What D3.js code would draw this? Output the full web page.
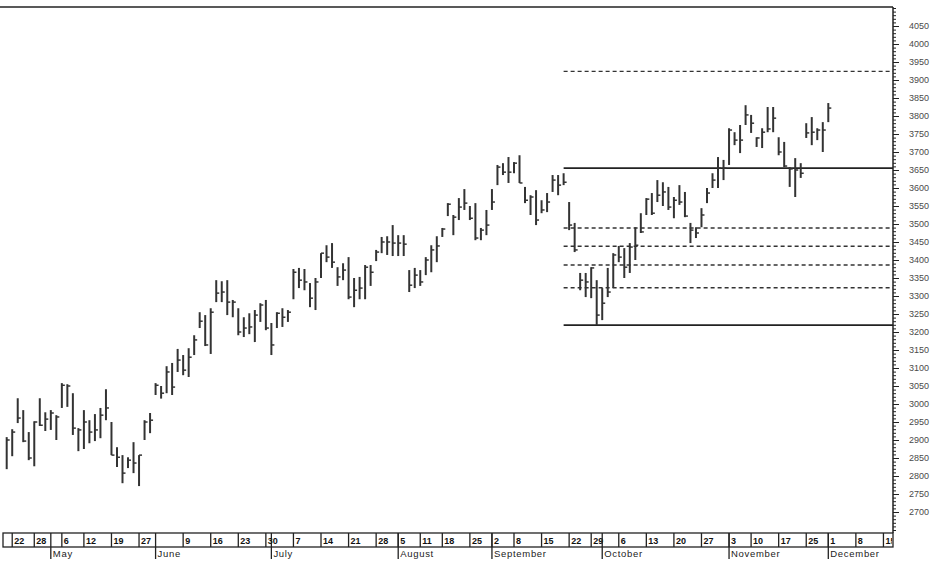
<!DOCTYPE html>
<html>
<head>
<meta charset="utf-8">
<script src="https://cdn.jsdelivr.net/npm/d3@7"></script>
<style>
  body { margin: 0; background: #fff; }
  svg { display: block; font-family: "Liberation Sans", Arial, sans-serif; }
</style>
</head>
<body>
<div id="chart"></div>
<script>
// daily bars (one entry per trading day)
const highs = [2908,2930,3016,2983,2922,2952,3016,2977,2983,2969, 3058,3055,3030,2933,2983,2955,2972,2989,3041,2950,
  2880,2858,2852,2894,2858,2955,2975,3058,3050,3105, 3114,3153,3136,3155,3191,3255,3247,3266,3344,3341,
  3344,3289,3266,3241,3252,3261,3280,3289,3225,3255, 3266,3261,3375,3378,3375,3336,3350,3419,3441,3447,
  3380,3391,3408,3350,3353,3386,3386,3428,3464,3466, 3497,3469,3469,3372,3378,3372,3408,3441,3466,3489,
  3558,3525,3572,3597,3550,3558,3489,3539,3597,3664, 3669,3686,3672,3691,3603,3580,3594,3566,3586,3636,
  3636,3641,3561,3503,3364,3364,3380,3344,3322,3378, 3419,3439,3433,3447,3491,3530,3572,3586,3622,3616,
  3603,3575,3608,3589,3503,3491,3544,3600,3641,3686, 3678,3766,3755,3775,3830,3803,3741,3766,3825,3825,
  3741,3728,3658,3683,3669,3780,3797,3766,3783,3836];
const lows = [2819,2855,2947,2894,2844,2827,2939,2925,2928,2900, 2989,2992,2914,2869,2875,2891,2897,2905,2955,2858,
  2825,2780,2822,2808,2772,2900,2919,3025,3015,3030, 3025,3089,3080,3075,3136,3211,3161,3139,3283,3283,
  3247,3241,3191,3186,3194,3172,3228,3205,3136,3211, 3214,3228,3291,3322,3316,3269,3261,3350,3394,3378,
  3328,3344,3291,3269,3291,3291,3328,3397,3419,3414, 3411,3411,3411,3311,3322,3328,3358,3366,3394,3464,
  3522,3469,3511,3539,3511,3455,3455,3469,3539,3608, 3636,3614,3641,3614,3558,3525,3497,3530,3533,3589,
  3580,3608,3483,3422,3316,3297,3294,3219,3233,3297, 3322,3394,3350,3364,3400,3475,3525,3525,3561,3550,
  3539,3516,3553,3519,3447,3461,3491,3558,3600,3600, 3622,3664,3719,3697,3775,3753,3714,3711,3755,3755,
  3691,3658,3603,3575,3628,3739,3719,3733,3700,3783];
const closes = [2900,2922,2961,2897,2850,2950,2941,2958,2975,2964, 3052,3050,2933,2928,2950,2922,2928,2969,2989,2858,
  2852,2808,2844,2836,2858,2950,2955,3052,3030,3089, 3047,3122,3094,3130,3178,3230,3164,3255,3308,3311,
  3283,3283,3200,3211,3214,3247,3275,3211,3164,3252, 3241,3255,3366,3344,3339,3294,3339,3419,3408,3394,
  3353,3372,3297,3316,3322,3380,3366,3422,3450,3450, 3447,3447,3444,3330,3358,3339,3400,3428,3439,3486,
  3555,3519,3547,3558,3516,3461,3483,3497,3561,3658, 3644,3644,3669,3614,3566,3575,3511,3539,3561,3622,
  3608,3616,3497,3428,3344,3339,3378,3247,3280,3311, 3414,3408,3380,3436,3441,3478,3569,3530,3580,3589,
  3547,3566,3561,3522,3483,3475,3525,3586,3622,3655, 3655,3761,3733,3733,3803,3780,3739,3755,3764,3794,
  3700,3661,3653,3650,3641,3753,3755,3761,3761,3822];

// horizontal levels drawn from bar 101 to the axis
const solidLevels = [3655, 3219];
const dashedLevels = [3924, 3489, 3438, 3386, 3323];
const levelFrom = 101;

// date strip: bar index of each weekly tick, and of each month start
const weekIdx = [1,5,10,14,19,24,32,37,42,47,52,57,62,67,71,75,79,84,88,92,97,102,106,111,116,121,126,131,135,140,145,149,154,159];
const weekLabels = ["22","28","6","12","19","27","9","16","23","30","7","14","21","28","5","11","18","25","2","8","15","22","29","6","13","20","27","3","10","17","25","1","8","15"];
const monthIdx = [8,27,48,71,88,108,131,149];
const monthLabels = ["May","June","July","August","September","October","November","December"];

const priceTicks = [2700,2750,2800,2850,2900,2950,3000,3050,3100,3150,3200,3250,3300,3350,3400,3450,3500,
  3550,3600,3650,3700,3750,3800,3850,3900,3950,4000,4050];

const width = 942, height = 561,
  axisX = 893, topY = 7, boxTop = 533, boxBottom = 547;

const svg = d3.select("#chart").append("svg")
  .attr("width", width)
  .attr("height", height);

const x = d3.scaleLinear().domain([0, 149]).range([6.7, 828.3]);
const y = d3.scaleLinear().domain([2700, 4050]).range([512, 26]);

// frame
svg.append("line")
  .attr("x1", 0).attr("x2", axisX)
  .attr("y1", topY).attr("y2", topY)
  .attr("stroke", "#222").attr("stroke-width", 1.5);

// price axis on the right
const minorAxis = svg.append("g")
  .attr("transform", `translate(${axisX},0)`)
  .call(d3.axisRight(y)
    .tickValues(d3.range(2650, 4101, 10))
    .tickSize(3)
    .tickFormat(""));
minorAxis.select(".domain").remove();

const majorAxis = svg.append("g")
  .attr("transform", `translate(${axisX},0)`)
  .call(d3.axisRight(y)
    .tickValues(priceTicks)
    .tickSize(6)
    .tickPadding(10)
    .tickFormat(d3.format("d")));
majorAxis.select(".domain").remove();
majorAxis.selectAll("text")
  .attr("font-size", 9)
  .attr("font-family", "Liberation Sans, Arial, sans-serif")
  .attr("fill", "#4a4a4a");
svg.selectAll(".tick line").attr("stroke", "#222");

svg.append("line")
  .attr("x1", axisX).attr("x2", axisX)
  .attr("y1", topY).attr("y2", boxTop)
  .attr("stroke", "#222").attr("stroke-width", 1.5);

// levels
const lv = svg.append("g");
lv.selectAll("line.solid")
  .data(solidLevels)
  .enter().append("line")
  .attr("class", "solid")
  .attr("x1", x(levelFrom)).attr("x2", axisX)
  .attr("y1", d => y(d)).attr("y2", d => y(d))
  .attr("stroke", "#222").attr("stroke-width", 1.8);
lv.selectAll("line.dash")
  .data(dashedLevels)
  .enter().append("line")
  .attr("class", "dash")
  .attr("x1", x(levelFrom)).attr("x2", axisX)
  .attr("y1", d => y(d)).attr("y2", d => y(d))
  .attr("stroke", "#333").attr("stroke-width", 1.4)
  .attr("stroke-dasharray", "4,3");

// bars
const bars = svg.append("g");
bars.selectAll("line.hl")
  .data(highs)
  .enter().append("line")
  .attr("class", "hl")
  .attr("x1", (d, i) => x(i)).attr("x2", (d, i) => x(i))
  .attr("y1", d => y(d)).attr("y2", (d, i) => y(lows[i]))
  .attr("stroke", "#333").attr("stroke-width", 2);
bars.selectAll("line.cl")
  .data(closes)
  .enter().append("line")
  .attr("class", "cl")
  .attr("x1", (d, i) => x(i)).attr("x2", (d, i) => x(i) + 3)
  .attr("y1", d => y(d)).attr("y2", d => y(d))
  .attr("stroke", "#333").attr("stroke-width", 1.5);

// date strip
svg.append("defs").append("clipPath").attr("id", "strip")
  .append("rect").attr("x", 0).attr("y", boxTop).attr("width", axisX - 1).attr("height", 30);

const strip = svg.append("g");
strip.append("rect")
  .attr("x", 3).attr("y", boxTop)
  .attr("width", axisX - 3).attr("height", boxBottom - boxTop)
  .attr("fill", "none").attr("stroke", "#222").attr("stroke-width", 1.3);

strip.selectAll("line.wk")
  .data(weekIdx)
  .enter().append("line")
  .attr("class", "wk")
  .attr("x1", d => x(d)).attr("x2", d => x(d))
  .attr("y1", boxTop).attr("y2", boxBottom)
  .attr("stroke", "#222").attr("stroke-width", 1.3);

strip.append("g").attr("clip-path", "url(#strip)")
  .selectAll("text")
  .data(weekIdx)
  .enter().append("text")
  .attr("x", d => x(d) + 2)
  .attr("y", boxBottom - 3)
  .attr("font-size", 9)
  .attr("font-weight", "bold")
  .attr("fill", "#111")
  .text((d, i) => weekLabels[i]);

strip.selectAll("line.mo")
  .data(monthIdx)
  .enter().append("line")
  .attr("class", "mo")
  .attr("x1", d => x(d)).attr("x2", d => x(d))
  .attr("y1", boxTop).attr("y2", 559)
  .attr("stroke", "#222").attr("stroke-width", 1.3);

strip.selectAll("text.mo")
  .data(monthIdx)
  .enter().append("text")
  .attr("class", "mo")
  .attr("x", d => x(d) + 2)
  .attr("y", 557)
  .attr("font-size", 9.5)
  .attr("letter-spacing", 0.7)
  .attr("fill", "#222")
  .text((d, i) => monthLabels[i]);
</script>
</body>
</html>
